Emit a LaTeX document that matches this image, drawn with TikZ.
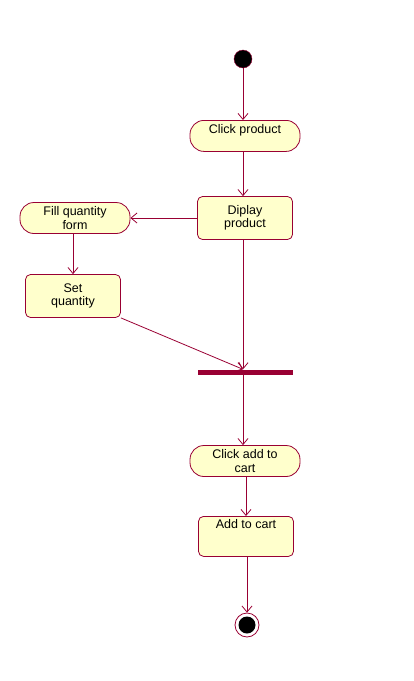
\documentclass[tikz,border=0pt]{standalone}
\usepackage{fontspec}
\setmainfont{Liberation Sans}
\usetikzlibrary{arrows.meta}
\definecolor{rosered}{RGB}{153,0,51}
\definecolor{roseyellow}{RGB}{255,255,204}
\begin{document}
\begin{tikzpicture}[x=1pt,y=-1pt]
  \tikzstyle{every node}=[font=\fontsize{12.5}{13.5}\selectfont, align=center]
  \tikzstyle{activity}=[draw=rosered, fill=roseyellow, rounded corners=14pt,
                        minimum width=110, minimum height=31, inner sep=1pt, line width=0.8pt]
  \tikzstyle{state}=[draw=rosered, fill=roseyellow, rounded corners=5pt,
                     minimum width=95, minimum height=43, inner sep=2pt, line width=0.8pt]
  \tikzstyle{flow}=[draw=rosered, line width=0.8pt, -{Straight Barb[length=6pt,width=10pt]}]
  \useasboundingbox (0,0) rectangle (413,681);
  \node[circle, fill=black, draw=rosered, minimum size=18, inner sep=0] (start) at (243,59) {};
  \node[activity, anchor=north, text height=9pt, text depth=14pt] (click) at (245,120) {Click product};
  \node[state] (diplay) at (245,218) {Diplay\\product};
  \node[activity] (fill) at (75,218) {Fill quantity\\form};
  \node[state] (set) at (73,296) {Set\\quantity};
  \node[fill=rosered, minimum width=95, minimum height=5, inner sep=0] (bar) at (245,372) {};
  \node[activity] (cart) at (245,461) {Click add to\\cart};
  \node[state, anchor=north, minimum height=40, text height=9pt, text depth=24pt] (add) at (246,516) {Add to cart};
  \node[circle, draw=rosered, minimum size=24, inner sep=0, line width=0.8pt] (end) at (247,625) {};
  \node[circle, fill=black, minimum size=17, inner sep=0] (endin) at (end) {};
  % transitions
  \draw[flow] (start) -- (start |- click.north);
  \draw[flow] (start |- click.south) -- (start |- diplay.north);
  \draw[flow] (diplay) -- (fill);
  \draw[flow] (set |- fill.south) -- (set);
  \draw[flow] (set.south east) -- (start |- bar.north);
  \draw[flow] (start |- diplay.south) -- (start |- bar.north);
  \draw[flow] (start |- bar.south) -- (start |- cart.north);
  \draw[flow] (add |- cart.south) -- (add);
  \draw[flow] (end |- add.south) -- (end);
\end{tikzpicture}
\end{document}
